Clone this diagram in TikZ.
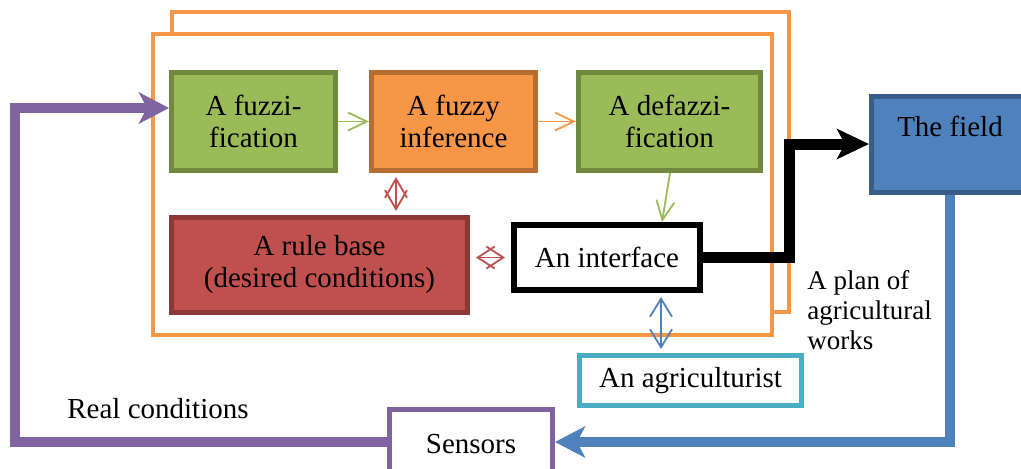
\documentclass[tikz,border=0pt]{standalone}
\usepackage{fontspec}
\setmainfont{Liberation Serif}
\usetikzlibrary{arrows.meta,positioning,calc}
\definecolor{fzGreen}{HTML}{9BBB59}
\definecolor{fzGreenDk}{HTML}{71893F}
\definecolor{fzOrange}{HTML}{F79646}
\definecolor{fzOrangeDk}{HTML}{B66D31}
\definecolor{fzRed}{HTML}{C0504D}
\definecolor{fzRedDk}{HTML}{8C3836}
\definecolor{fzBlue}{HTML}{4F81BD}
\definecolor{fzBlueDk}{HTML}{385D8A}
\definecolor{fzPurple}{HTML}{8064A2}
\definecolor{fzCyan}{HTML}{4BACC6}

\begin{document}
\begin{tikzpicture}[x=0.5pt,y=-0.5pt,
  font=\fontsize{14.5}{16}\selectfont,
  box/.style={draw,line width=2.5pt,align=center,inner sep=0pt},
  thinarr/.style={-{Straight Barb[length=9.5pt,width=9pt]},line width=0.9pt},
  both/.style={{Straight Barb[length=#1,width=11pt]}-{Straight Barb[length=#1,width=11pt]},
               line width=0.9pt,shorten >=2pt,shorten <=2pt},
  fat/.style={line width=5pt,-{Stealth[length=15pt,width=15.5pt,inset=4pt]}}]
\useasboundingbox (0,0) rectangle (1021,468);
% the two frames of the controller
\draw[fzOrange,line width=2pt] (172,12) rectangle (789,312);
\draw[fzOrange,line width=2pt,fill=white] (153,34) rectangle (772,335);
% blocks
\node[box,draw=fzGreenDk,fill=fzGreen,minimum width=82pt,minimum height=49pt]
  (fuzz) at (253.5,121.5) {A fuzzi-\\fication};
\node[box,draw=fzOrangeDk,fill=fzOrange,minimum width=82pt,minimum height=49pt]
  (inf) at (453.5,121.5) {A fuzzy\\inference};
\node[box,draw=fzGreenDk,fill=fzGreen,minimum width=91pt,minimum height=49pt]
  (defuzz) at (669.5,121.5) {A defazzi-\\fication};
\node[box,draw=fzRedDk,fill=fzRed,minimum width=148pt,minimum height=47.5pt]
  (rule) at (319.5,265) {A rule base\\(desired conditions)};
\node[box,draw=black,line width=3pt,fill=white,minimum width=93pt,minimum height=32.5pt]
  (iface) at (607,257.5) {An interface};
\node[box,draw=fzCyan,fill=white,minimum width=111pt,minimum height=25pt]
  (agri) at (690.5,380.5) {An agriculturist};
\node[box,draw=fzBlueDk,fill=fzBlue,minimum width=78.5pt,text height=20pt,text depth=28pt,
      anchor=north] (field) at (950,93.5) {The field};
\node[box,draw=fzPurple,fill=white,minimum width=81.5pt,text height=22pt,text depth=11pt]
  (sens) at (471,442) {Sensors};
% labels
\node[anchor=north west,align=left,inner sep=0pt,font=\fontsize{13.5}{15}\selectfont]
  (plan) at (807,270) {A plan of\\agricultural\\works};
\node[anchor=base west,inner sep=0pt] (real) at (67,418) {Real conditions};
% inner arrows
\draw[thinarr,fzGreen] (fuzz) -- (inf);
\draw[thinarr,fzOrange] (inf) -- (defuzz);
\draw[thinarr,fzGreen] ($(defuzz.south)+(0.5,0)$) -- ($(iface.north)+(55,0)$);
\coordinate (rTop) at ($(inf.south)+(-57.5,0)$);
\draw[both=9.5pt,fzRed] (rTop) -- (rTop |- rule.north);
\draw[both=8.5pt,fzRed,shorten >=3pt,shorten <=3pt] (iface.west -| rule.east) -- (iface.west);
\coordinate (bTop) at ($(iface.south)+(54,0)$);
\draw[both=9pt,fzBlue] (bTop) -- (bTop |- agri.north);
% outer loop
\draw[fat,black,line width=5.5pt,-{Stealth[length=16pt,width=15pt,inset=4pt]}]
  (iface.east) -- ++(86,0) |- (field.west);
\draw[fat,fzBlue] (field.south) |- (sens.east);
\coordinate (fIn) at ($(fuzz.west)+(0,-13.5)$);
\draw[fat,fzPurple] (sens.west) -- ++(-372.5,0) |- (fIn);
\end{tikzpicture}
\end{document}
